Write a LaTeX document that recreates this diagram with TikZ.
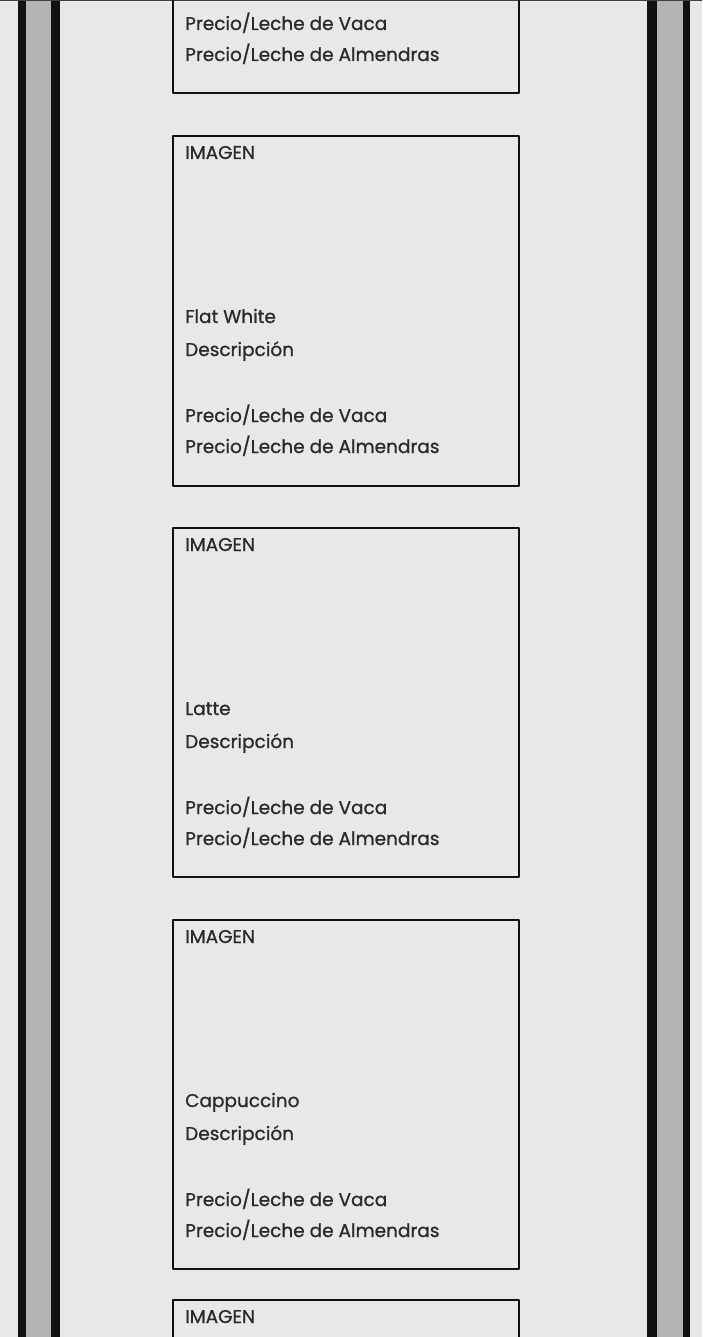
\documentclass[tikz,border=0pt]{standalone}
\usepackage{fontspec}
\setmainfont{Poppins}
\newfontfamily\cardfont{Poppins}[FakeBold=0.9]
\definecolor{bg}{HTML}{E8E8E8}
\definecolor{rail}{HTML}{B4B4B4}
\definecolor{ink}{HTML}{2A2A2A}
\definecolor{edge}{HTML}{111111}
\tikzset{
  card/.style={draw=edge, line width=2.8pt, line join=round},
  lbl/.style={anchor=base west, inner sep=0pt, text=ink, font=\cardfont\fontsize{18.5}{22}\selectfont},
  railout/.style={fill=edge},
  railin/.style={fill=rail}
}
\begin{document}
\begin{tikzpicture}[x=1pt,y=-1pt]
\useasboundingbox (0,0) rectangle (702,1337);
\fill[bg] (0,0) rectangle (702,1337);
\begin{scope}
\clip (0,0) rectangle (702,1337);
% rails
\fill[railout] (18,-5) rectangle (60,1345);
\fill[railin] (26,-5) rectangle (51,1345);
\fill[railout] (647,-5) rectangle (690,1345);
\fill[railin] (657,-5) rectangle (683,1345);
\draw[edge!80, line width=1.2pt] (0,0.4) -- (702,0.4);
% card 0 (partial)
\draw[card] (173,-260) rectangle (519,93);
\node[lbl] (c0v) at (185,30) {Precio/Leche de Vaca};
\node[lbl] (c0a) at (185,61) {Precio/Leche de Almendras};
% card 1
\draw[card] (173,136) rectangle (519,486);
\node[lbl] (c1i) at (185,159) {IMAGEN};
\node[lbl] (c1n) at (185,323) {Flat White};
\node[lbl] (c1d) at (185,356) {Descripción};
\node[lbl] (c1v) at (185,422) {Precio/Leche de Vaca};
\node[lbl] (c1a) at (185,453) {Precio/Leche de Almendras};
% card 2
\draw[card] (173,528) rectangle (519,877);
\node[lbl] (c2i) at (185,551) {IMAGEN};
\node[lbl] (c2n) at (185,715) {Latte};
\node[lbl] (c2d) at (185,748) {Descripción};
\node[lbl] (c2v) at (185,814) {Precio/Leche de Vaca};
\node[lbl] (c2a) at (185,845) {Precio/Leche de Almendras};
% card 3
\draw[card] (173,920) rectangle (519,1269);
\node[lbl] (c3i) at (185,943) {IMAGEN};
\node[lbl] (c3n) at (185,1107) {Cappuccino};
\node[lbl] (c3d) at (185,1140) {Descripción};
\node[lbl] (c3v) at (185,1206) {Precio/Leche de Vaca};
\node[lbl] (c3a) at (185,1237) {Precio/Leche de Almendras};
% card 4 (partial)
\draw[card] (173,1300) rectangle (519,1660);
\node[lbl] (c4i) at (185,1323) {IMAGEN};
\end{scope}
\end{tikzpicture}
\end{document}
